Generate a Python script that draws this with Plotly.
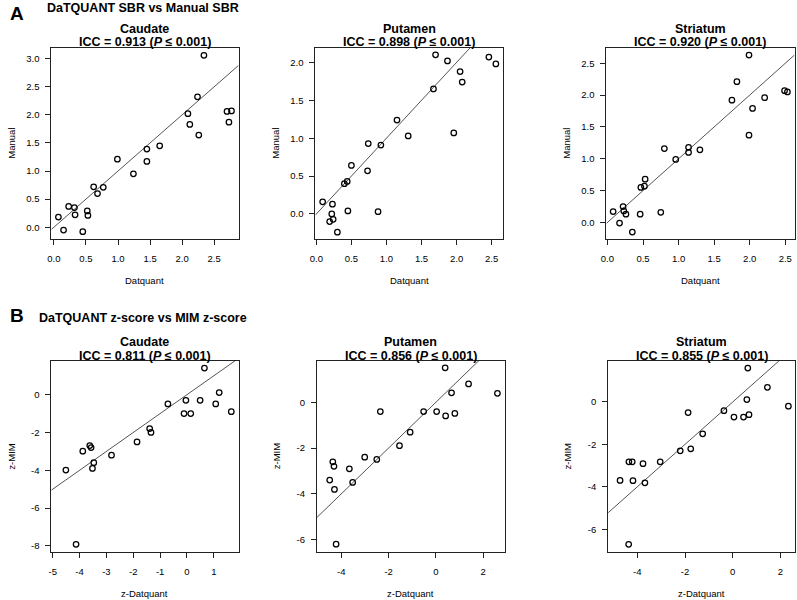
import plotly.graph_objects as go

W, H = 797, 600

# ---------------- data ----------------
caud_sbr_dq = [0.07, 0.15, 0.23, 0.32, 0.33, 0.45, 0.52, 0.53, 0.62, 0.68, 0.77, 0.99,
               1.24, 1.45, 1.45, 1.65, 2.09, 2.12, 2.24, 2.26, 2.34, 2.70, 2.77, 2.73]
caud_sbr_man = [0.18, -0.05, 0.37, 0.35, 0.22, -0.08, 0.29, 0.21, 0.72, 0.60, 0.71, 1.21,
                0.95, 1.39, 1.17, 1.45, 2.02, 1.83, 2.32, 1.64, 3.06, 2.06, 2.07, 1.87]

put_sbr_dq = [0.09, 0.23, 0.22, 0.19, 0.24, 0.30, 0.40, 0.44, 0.45, 0.50, 0.73, 0.74,
              0.88, 0.92, 1.15, 1.31, 1.67, 1.70, 1.87, 1.96, 2.05, 2.08, 2.46, 2.56]
put_sbr_man = [0.16, 0.13, 0.00, -0.10, -0.07, -0.24, 0.40, 0.43, 0.04, 0.64, 0.57, 0.93,
               0.03, 0.91, 1.24, 1.03, 1.65, 2.10, 2.02, 1.07, 1.88, 1.74, 2.07, 1.98]

str_sbr_dq = [0.08, 0.17, 0.22, 0.23, 0.26, 0.35, 0.46, 0.47, 0.52, 0.53, 0.75, 0.80,
              0.96, 1.14, 1.14, 1.30, 1.75, 1.82, 1.99, 1.99, 2.04, 2.21, 2.49, 2.53]
str_sbr_man = [0.17, -0.01, 0.25, 0.18, 0.13, -0.15, 0.13, 0.55, 0.57, 0.68, 0.16, 1.16,
               0.99, 1.18, 1.10, 1.14, 1.92, 2.21, 2.63, 1.37, 1.79, 1.96, 2.07, 2.05]

caud_z_dq = [-4.51, -4.13, -3.88, -3.62, -3.57, -3.52, -3.47, -2.81, -1.86, -1.39,
             -1.34, -0.71, -0.11, -0.04, 0.14, 0.49, 0.65, 1.07, 1.20, 1.65]
caud_z_mim = [-3.99, -7.91, -2.99, -2.69, -2.80, -3.90, -3.60, -3.20, -2.50, -1.79,
              -2.00, -0.49, -1.00, -0.30, -1.00, -0.30, 1.41, -0.49, 0.11, -0.90]

put_z_dq = [-4.49, -4.36, -4.31, -4.29, -4.22, -3.66, -3.52, -3.01, -2.50, -2.35,
            -1.54, -1.09, -0.52, 0.03, 0.39, 0.41, 0.66, 0.80, 1.38, 2.60]
put_z_mim = [-3.40, -2.60, -2.80, -3.81, -6.20, -2.91, -3.50, -2.40, -2.50, -0.41,
             -1.90, -1.31, -0.41, -0.41, 1.50, -0.60, 0.41, -0.49, 0.80, 0.39]

str_z_dq = [-4.72, -4.35, -4.21, -4.18, -4.36, -3.76, -3.68, -3.04, -2.20, -1.87,
            -1.76, -1.26, -0.37, 0.05, 0.45, 0.59, 0.63, 0.68, 1.45, 2.33]
str_z_mim = [-3.70, -2.82, -2.82, -3.71, -6.71, -2.91, -3.81, -2.82, -2.30, -0.50,
             -2.21, -1.50, -0.41, -0.71, -0.71, 0.11, 1.60, -0.60, 0.69, -0.20]

regions = ["Caudate", "Putamen", "Striatum"]
icc_sbr = ["0.913", "0.898", "0.920"]
icc_z = ["0.811", "0.856", "0.855"]

sbr_x_ticks = [0.0, 0.5, 1.0, 1.5, 2.0, 2.5]
sbr_y_ticks = [[0.0, 0.5, 1.0, 1.5, 2.0, 2.5, 3.0],
               [0.0, 0.5, 1.0, 1.5, 2.0],
               [0.0, 0.5, 1.0, 1.5, 2.0, 2.5]]
z_x_ticks = [[-5, -4, -3, -2, -1, 0, 1], [-4, -2, 0, 2], [-4, -2, 0, 2]]
z_y_ticks = [[-8, -6, -4, -2, 0], [-6, -4, -2, 0], [-6, -4, -2, 0]]

# ---------------- layout geometry (pixels) ----------------
panels = [
    (caud_sbr_dq, caud_sbr_man, [-0.04, 2.88], [-0.21, 3.19], sbr_x_ticks, sbr_y_ticks[0], "{:.1f}",
     (45.7, 234.3, 48, 239), regions[0], icc_sbr[0], "Datquant", "Manual"),
    (put_sbr_dq, put_sbr_man, [-0.014, 2.665], [-0.33, 2.19], sbr_x_ticks, sbr_y_ticks[1], "{:.1f}",
     (311.7, 501.0, 48, 239), regions[1], icc_sbr[1], "Datquant", "Manual"),
    (str_sbr_dq, str_sbr_man, [-0.014, 2.63], [-0.26, 2.74], sbr_x_ticks, sbr_y_ticks[2], "{:.1f}",
     (605.0, 794.5, 48, 239), regions[2], icc_sbr[2], "Datquant", "Manual"),
    (caud_z_dq, caud_z_mim, [-5.05, 1.92], [-8.32, 1.78], z_x_ticks[0], z_y_ticks[0], "{:d}",
     (45.7, 234.3, 361, 552), regions[0], icc_z[0], "z-Datquant", "z-MIM"),
    (put_z_dq, put_z_mim, [-5.03, 2.90], [-6.54, 1.80], z_x_ticks[1], z_y_ticks[1], "{:d}",
     (313.3, 502.3, 361, 552), regions[1], icc_z[1], "z-Datquant", "z-MIM"),
    (str_z_dq, str_z_mim, [-5.22, 2.62], [-7.07, 1.93], z_x_ticks[2], z_y_ticks[2], "{:d}",
     (606.7, 795.3, 361, 552), regions[2], icc_z[2], "z-Datquant", "z-MIM"),
]

FONT = "Liberation Sans, Arial, Helvetica, sans-serif"

def px(x):
    return x / W

def py(y):
    return 1 - y / H

fig = go.Figure()
annotations = []
layout_axes = {}

for i, (xs, ys, xr, yr, xt, yt, fmt, box, title, icc, xlab, ylab) in enumerate(panels):
    n = i + 1
    xa = "x" if n == 1 else f"x{n}"
    ya = "y" if n == 1 else f"y{n}"
    l, r, t, b = box
    # identity reference line
    fig.add_trace(go.Scatter(x=xr, y=xr, mode="lines", xaxis=xa, yaxis=ya,
                             line=dict(color="#555555", width=1), showlegend=False,
                             hoverinfo="skip"))
    fig.add_trace(go.Scatter(x=xs, y=ys, mode="markers", xaxis=xa, yaxis=ya,
                             marker=dict(symbol="circle-open", size=5.5,
                                         line=dict(color="black", width=1.25), color="black"),
                             showlegend=False))
    common = dict(showline=True, linecolor="#222222", linewidth=1, mirror=True,
                  ticks="outside", ticklen=5, tickwidth=1, tickcolor="#222222",
                  showgrid=False, zeroline=False,
                  tickfont=dict(family=FONT, size=9.5, color="black"))
    layout_axes["xaxis" if n == 1 else f"xaxis{n}"] = dict(
        domain=[px(l), px(r)], range=xr, anchor=ya, tickmode="array", tickvals=xt,
        ticktext=[fmt.format(v) for v in xt], ticklabelstandoff=6, **common)
    layout_axes["yaxis" if n == 1 else f"yaxis{n}"] = dict(
        domain=[py(b), py(t)], range=yr, anchor=xa, tickmode="array", tickvals=yt,
        ticktext=[fmt.format(v) for v in yt], ticklabelstandoff=4, **common)
    cx = (l + r) / 2
    cy = (t + b) / 2
    annotations.append(dict(text=f"<b>{title}</b>", x=px(cx), y=py(t - 19), xref="paper", yref="paper",
                            showarrow=False, xanchor="center", yanchor="middle",
                            font=dict(family=FONT, size=12.5, color="black")))
    annotations.append(dict(text=f"<b>ICC = {icc} (<i>P</i> ≤ 0.001)</b>", x=px(cx), y=py(t - 5.5),
                            xref="paper", yref="paper", showarrow=False,
                            xanchor="center", yanchor="middle",
                            font=dict(family=FONT, size=12.5, color="black")))
    annotations.append(dict(text=xlab, x=px(cx), y=py(b + 41.5), xref="paper", yref="paper",
                            showarrow=False, xanchor="center", yanchor="middle",
                            font=dict(family=FONT, size=9.5, color="black")))
    annotations.append(dict(text=ylab, x=px(l - 40.5), y=py(cy), xref="paper", yref="paper",
                            showarrow=False, xanchor="center", yanchor="middle", textangle=-90,
                            font=dict(family=FONT, size=9.5, color="black")))

# section labels
annotations += [
    dict(text="<b>A</b>", x=px(11.5), y=py(14), xref="paper", yref="paper", showarrow=False,
         xanchor="center", yanchor="middle", font=dict(family=FONT, size=19, color="black")),
    dict(text="<b>DaTQUANT SBR vs Manual SBR</b>", x=px(39), y=py(8.5), xref="paper", yref="paper",
         showarrow=False, xanchor="left", yanchor="middle",
         font=dict(family=FONT, size=12.5, color="black")),
    dict(text="<b>B</b>", x=px(11.5), y=py(316), xref="paper", yref="paper", showarrow=False,
         xanchor="center", yanchor="middle", font=dict(family=FONT, size=19, color="black")),
    dict(text="<b>DaTQUANT z-score vs MIM z-score</b>", x=px(31), y=py(317.5), xref="paper",
         yref="paper", showarrow=False, xanchor="left", yanchor="middle",
         font=dict(family=FONT, size=12.5, color="black")),
]

fig.update_layout(width=W, height=H, margin=dict(l=0, r=0, t=0, b=0),
                  paper_bgcolor="white", plot_bgcolor="white",
                  font=dict(family=FONT), annotations=annotations, **layout_axes)

fig.write_html("out.html", config={"displayModeBar": False},
               post_script="document.body.style.margin='0';document.body.style.overflow='hidden';")
